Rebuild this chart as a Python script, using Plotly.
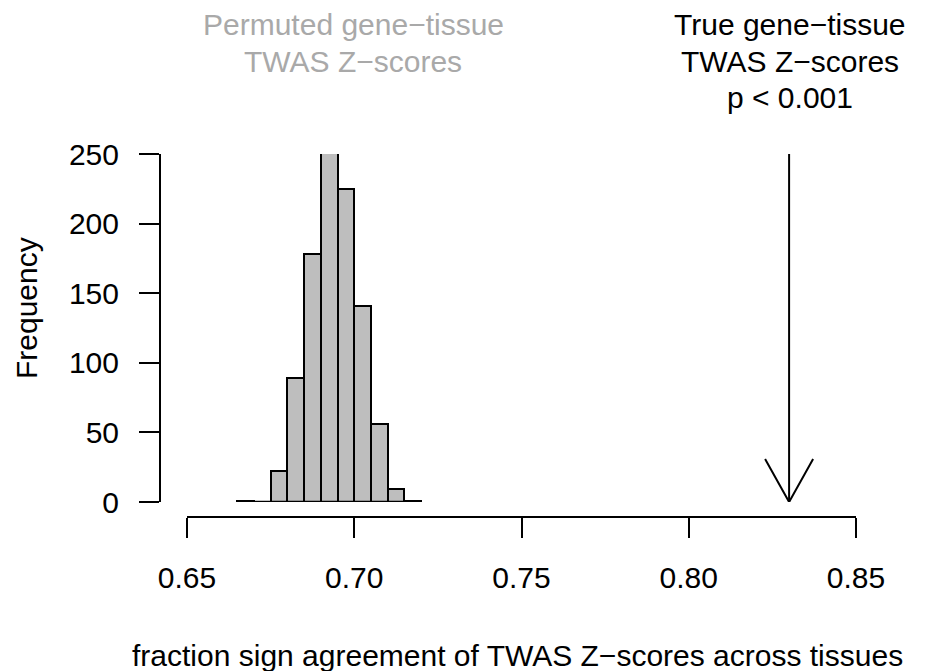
import plotly.graph_objects as go

# ---- data ----
BIN_START = 0.665
BIN_WIDTH = 0.005
COUNTS = [1, 0, 22, 89, 178, 278, 225, 141, 56, 9, 1]
X_TICKS = [0.65, 0.70, 0.75, 0.80, 0.85]
X_TICK_LABELS = ["0.65", "0.70", "0.75", "0.80", "0.85"]
Y_TICKS = [0, 50, 100, 150, 200, 250]
Y_TICK_LABELS = ["0", "50", "100", "150", "200", "250"]
TRUE_VALUE = 0.83
ARROW_TOP = 250

PERM_LINES = ["Permuted gene\u2212tissue", "TWAS Z\u2212scores"]
TRUE_LINES = ["True gene\u2212tissue", "TWAS Z\u2212scores", "p < 0.001"]
X_TITLE = "fraction sign agreement of TWAS Z\u2212scores across tissues"
Y_TITLE = "Frequency"

# ---- layout geometry (pixels) ----
W, H = 933, 671
X0_PX, X1_PX = 187, 856
Y0_PX, Y1_PX = 502, 154  # y=0 and y=250
XAXIS_PX = 517
YAXIS_PX = 160
FONT = "Liberation Sans, Arial, sans-serif"
FS = 30
LINE_MID0 = 25
LINE_STEP = 36

def px_x(p):
    return p / W

def px_y(p):
    return (H - p) / H

centers = [BIN_START + BIN_WIDTH * (i + 0.5) for i in range(len(COUNTS))]
edges = [BIN_START, BIN_START + BIN_WIDTH * len(COUNTS)]

fig = go.Figure()
fig.add_trace(go.Bar(
    x=centers, y=COUNTS, width=[BIN_WIDTH] * len(COUNTS),
    marker=dict(color="#BEBEBE", line=dict(color="black", width=2)),
    hoverinfo="skip", showlegend=False,
))
# base line of histogram (R draws zero-height rects as lines)
fig.add_trace(go.Scatter(
    x=edges, y=[0, 0], mode="lines",
    line=dict(color="black", width=2.5), cliponaxis=False,
    hoverinfo="skip", showlegend=False,
))

# arrow for true value
x_range = X_TICKS[-1] - X_TICKS[0]
head_dx = 24 / (X1_PX - X0_PX) * x_range
head_dy = 43 / (Y0_PX - Y1_PX) * ARROW_TOP
fig.add_trace(go.Scatter(
    x=[TRUE_VALUE, TRUE_VALUE], y=[ARROW_TOP, 0], mode="lines",
    line=dict(color="black", width=2), cliponaxis=False,
    hoverinfo="skip", showlegend=False,
))
fig.add_trace(go.Scatter(
    x=[TRUE_VALUE - head_dx, TRUE_VALUE, TRUE_VALUE + head_dx],
    y=[head_dy, 0, head_dy], mode="lines",
    line=dict(color="black", width=2), cliponaxis=False,
    hoverinfo="skip", showlegend=False,
))

annotations = []
for i, line in enumerate(PERM_LINES):
    annotations.append(dict(
        text=line, xref="paper", yref="paper",
        x=px_x(353), y=px_y(LINE_MID0 + i * LINE_STEP),
        xanchor="center", yanchor="middle", showarrow=False,
        font=dict(color="#A9A9A9", size=FS)))
for i, line in enumerate(TRUE_LINES):
    annotations.append(dict(
        text=line, xref="paper", yref="paper",
        x=px_x(790), y=px_y(LINE_MID0 + i * LINE_STEP),
        xanchor="center", yanchor="middle", showarrow=False,
        font=dict(color="black", size=FS)))
annotations.append(dict(
    text=X_TITLE, xref="paper", yref="paper",
    x=px_x(517), y=px_y(655), xanchor="center", yanchor="middle",
    showarrow=False, font=dict(size=FS)))
annotations.append(dict(
    text=Y_TITLE, xref="paper", yref="paper",
    x=px_x(27), y=px_y(308), xanchor="center", yanchor="middle",
    textangle=-90, showarrow=False, font=dict(size=FS)))

fig.update_layout(
    template="none",
    width=W, height=H,
    margin=dict(l=0, r=0, t=0, b=0, pad=0),
    paper_bgcolor="white", plot_bgcolor="white",
    font=dict(family=FONT, size=FS, color="black"),
    bargap=0,
    xaxis=dict(
        domain=[px_x(X0_PX), px_x(X1_PX)],
        range=[X_TICKS[0], X_TICKS[-1]],
        anchor="free", position=px_y(XAXIS_PX),
        automargin=False,
        tickvals=X_TICKS, ticktext=X_TICK_LABELS,
        ticks="outside", ticklen=20, tickwidth=2, tickcolor="black",
        showline=True, linewidth=2, linecolor="black",
        showgrid=False, zeroline=False,
        ticklabelstandoff=14,
        tickfont=dict(size=FS),
    ),
    yaxis=dict(
        domain=[px_y(Y0_PX), px_y(Y1_PX)],
        range=[0, ARROW_TOP],
        anchor="free", position=px_x(YAXIS_PX),
        automargin=False,
        tickvals=Y_TICKS, ticktext=Y_TICK_LABELS,
        ticks="outside", ticklen=20, tickwidth=2, tickcolor="black",
        showline=True, linewidth=2, linecolor="black",
        showgrid=False, zeroline=False,
        ticklabelstandoff=14,
        tickfont=dict(size=FS),
    ),
    annotations=annotations,
)

fig.write_html("out.html")
